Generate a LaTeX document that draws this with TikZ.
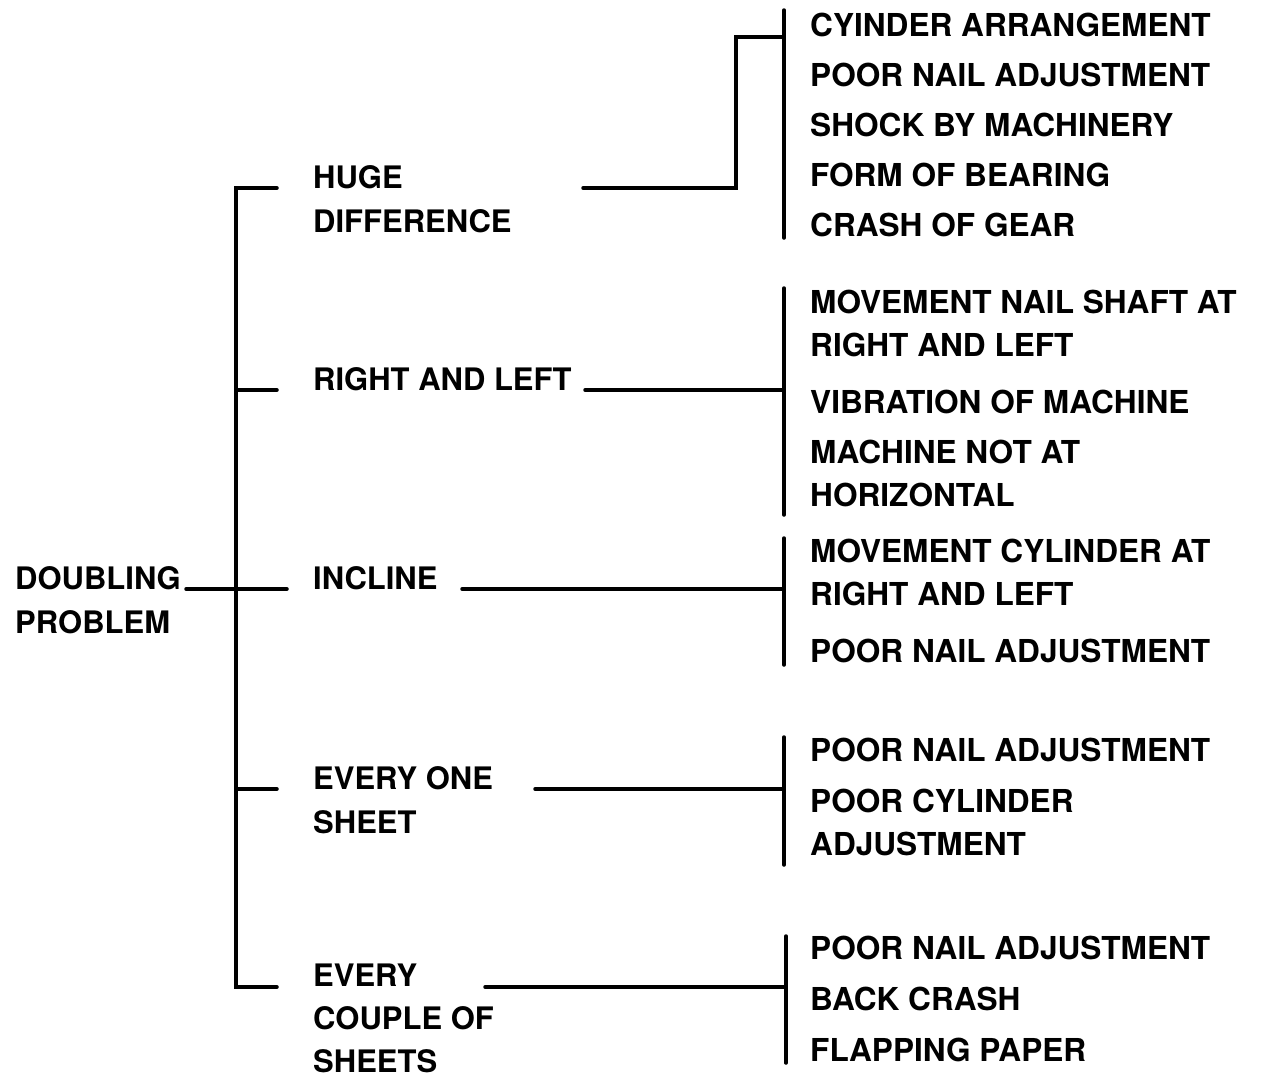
\documentclass[tikz,border=0pt]{standalone}
\usepackage{fontspec}
\setmainfont{TeX Gyre Heros}
\begin{document}
\begin{tikzpicture}[x=1pt,y=-1pt,
  lbl/.style={font=\fontsize{31}{44}\selectfont\bfseries, inner sep=0pt, anchor=base west, align=left},
  lbltight/.style={font=\fontsize{31}{43}\selectfont\bfseries, inner sep=0pt, anchor=base west, align=left},
  item/.style={font=\fontsize{31.6}{43.5}\selectfont\bfseries, inner sep=0pt, anchor=base west, align=left},
  ln/.style={line width=3.5pt, line cap=round, line join=miter}]
\useasboundingbox (0,0) rectangle (1271,1077);

% root and branch labels (anchor = baseline of the last line)
\node[lbl] (root) at (15,633) {DOUBLING\\PROBLEM};
\node[lbl] (b1) at (313,232) {HUGE\\DIFFERENCE};
\node[lbl] (b2) at (313,390) {RIGHT AND LEFT};
\node[lbl] (b3) at (313,589) {INCLINE};
\node[lbl] (b4) at (313,833) {EVERY ONE\\SHEET};
\node[lbltight] (b5) at (313,1072) {EVERY\\COUPLE OF\\SHEETS};

% causes
\node[item] (i11) at (810,36) {CYINDER ARRANGEMENT};
\node[item] (i12) at (810,86) {POOR NAIL ADJUSTMENT};
\node[item] (i13) at (810,136) {SHOCK BY MACHINERY};
\node[item] (i14) at (810,186) {FORM OF BEARING};
\node[item] (i15) at (810,236) {CRASH OF GEAR};

\node[item] (i21) at (810,356.5) {MOVEMENT NAIL SHAFT AT\\RIGHT AND LEFT};
\node[item] (i22) at (810,413) {VIBRATION OF MACHINE};
\node[item] (i23) at (810,506.5) {MACHINE NOT AT\\HORIZONTAL};

\node[item] (i31) at (810,605.5) {MOVEMENT CYLINDER AT\\RIGHT AND LEFT};
\node[item] (i32) at (810,662) {POOR NAIL ADJUSTMENT};

\node[item] (i41) at (810,761) {POOR NAIL ADJUSTMENT};
\node[item] (i42) at (810,855.5) {POOR CYLINDER\\ADJUSTMENT};

\node[item] (i51) at (810,959) {POOR NAIL ADJUSTMENT};
\node[item] (i52) at (810,1010) {BACK CRASH};
\node[item] (i53) at (810,1061) {FLAPPING PAPER};

% junction coordinates
\coordinate (rootend) at (186,589);
\coordinate (rootjoin) at (287,589);
\coordinate (ttop) at (236,188);
\coordinate (tbot) at (236,987);
\coordinate (s1) at (277,188);
\coordinate (s2) at (277,390);
\coordinate (s4) at (277,789);
\coordinate (s5) at (277,987);

\coordinate (c1) at (583,188);
\coordinate (c1k) at (736,188);
\coordinate (c1u) at (736,37);
\coordinate (r1) at (784,37);
\coordinate (c2) at (585,390);
\coordinate (r2) at (784,390);
\coordinate (c3) at (462,589);
\coordinate (r3) at (784,589);
\coordinate (c4) at (535,789);
\coordinate (r4) at (784,789);
\coordinate (c5) at (485,987);
\coordinate (r5) at (786,987);

\coordinate (v1t) at (784,10);   \coordinate (v1b) at (784,238);
\coordinate (v2t) at (784,288);  \coordinate (v2b) at (784,515);
\coordinate (v3t) at (784,538);  \coordinate (v3b) at (784,665);
\coordinate (v4t) at (784,737);  \coordinate (v4b) at (784,865);
\coordinate (v5t) at (786,936);  \coordinate (v5b) at (786,1063);

% trunk
\draw[ln] (rootend) -- (rootjoin);
\draw[ln] (s1) -- (ttop) -- (tbot) -- (s5);
\draw[ln] (ttop |- s2) -- (s2);
\draw[ln] (ttop |- s4) -- (s4);

% connectors to cause bars
\draw[ln] (c1) -- (c1k) -- (c1u) -- (r1);
\draw[ln] (c2) -- (r2);
\draw[ln] (c3) -- (r3);
\draw[ln] (c4) -- (r4);
\draw[ln] (c5) -- (r5);

\draw[ln] (v1t) -- (v1b);
\draw[ln] (v2t) -- (v2b);
\draw[ln] (v3t) -- (v3b);
\draw[ln] (v4t) -- (v4b);
\draw[ln] (v5t) -- (v5b);
\end{tikzpicture}
\end{document}
